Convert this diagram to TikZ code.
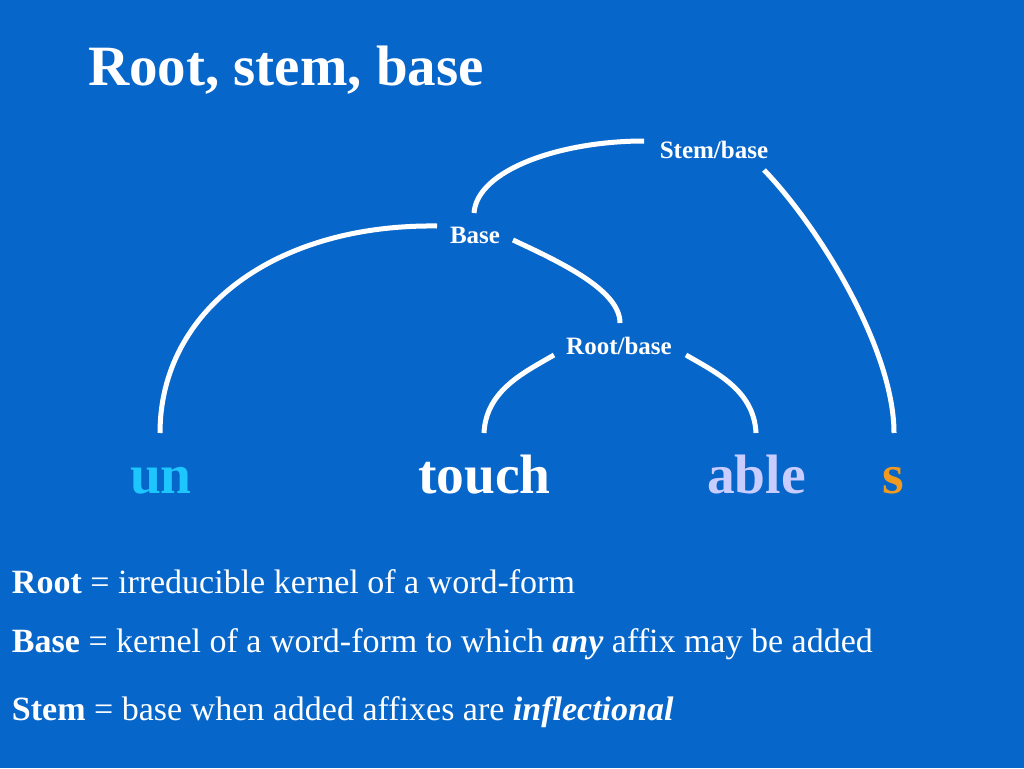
\documentclass[tikz,border=0pt]{standalone}
\usepackage{fontspec}
\setmainfont{Liberation Serif}
\definecolor{bg}{HTML}{0766CA}
\definecolor{uncol}{HTML}{1EC6FF}
\definecolor{ablecol}{HTML}{C8CCFF}
\definecolor{scol}{HTML}{F09A20}
\begin{document}
\begin{tikzpicture}[x=1pt,y=-1pt,
  txt/.style={inner sep=0pt, outer sep=0pt, text=white},
  lbl/.style={txt, anchor=base, font=\fontsize{25}{28}\selectfont\bfseries},
  word/.style={inner sep=0pt, outer sep=0pt, anchor=base west, font=\fontsize{55.5}{60}\selectfont\bfseries},
  defn/.style={txt, anchor=base west, font=\fontsize{34}{38}\selectfont},
  arc/.style={draw=white, line width=5pt, line cap=butt}]
\fill[bg] (0,0) rectangle (1024,768);
\useasboundingbox (0,0) rectangle (1024,768);
% title
\node[txt, anchor=base west, font=\fontsize{57}{62}\selectfont\bfseries] (title) at (88,85) {Root, stem, base};
% labels
\node[lbl] (stembase) at (714,158) {Stem/base};
\node[lbl] (base) at (475,243) {Base};
\node[lbl] (rootbase) at (619,354) {Root/base};
% words
\node[word, text=uncol] (un) at (130,493) {un};
\node[word, text=white] (touch) at (418,493) {touch};
\node[word, text=ablecol] (able) at (707,493) {able};
\node[word, text=scol] (s) at (882,493) {s};
% arc end points
\coordinate (unT) at (160,433);
\coordinate (touchT) at (484,433);
\coordinate (ableT) at (756,433);
\coordinate (sT) at (894,433);
\coordinate (baseL) at (437,226);
\coordinate (baseR) at (513,240);
\coordinate (baseTop) at (474,213);
\coordinate (sbL) at (644,141);
\coordinate (sbR) at (764,170);
\coordinate (rbTop) at (620,323);
\coordinate (rbL) at (554,355);
\coordinate (rbR) at (686,355);
% arcs
\draw[arc] (baseTop) .. controls (477,170) and (560,141) .. (sbL);
\draw[arc] (sbR) .. controls (820,228) and (894,350) .. (sT);
\draw[arc] (unT) .. controls (160,310) and (275,224) .. (baseL);
\draw[arc] (baseR) .. controls (560,262) and (620,290) .. (rbTop);
\draw[arc] (touchT) .. controls (486,390) and (525,372) .. (rbL);
\draw[arc] (ableT) .. controls (754,390) and (715,372) .. (rbR);
% definitions
\node[defn] (d1) at (12,593) {\textbf{Root} = irreducible kernel of a word-form};
\node[defn] (d2) at (12,652) {\textbf{Base} = kernel of a word-form to which \textbf{\textit{any}} affix may be added};
\node[defn] (d3) at (12,720) {\textbf{Stem} = base when added affixes are \textbf{\textit{inflectional}}};
\end{tikzpicture}
\end{document}
